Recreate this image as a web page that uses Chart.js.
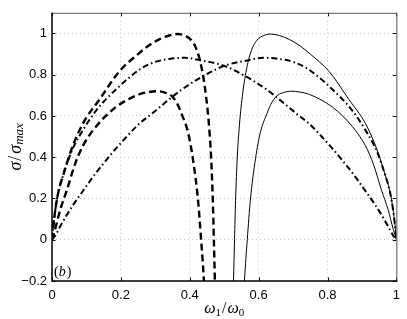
<!DOCTYPE html>
<html><head><meta charset="utf-8">
<script src="https://cdn.jsdelivr.net/npm/chart.js@4.4.1/dist/chart.umd.min.js"></script>
<style>html,body{margin:0;padding:0;background:#fff}#wrap{width:407px;height:319px}</style>
</head><body><div id="wrap"><canvas id="c" width="407" height="319"></canvas></div>
<script>
// Tick values and labels
const xTicks = [0, 0.2, 0.4, 0.6, 0.8, 1];
const xTickLabels = ['0', '0.2', '0.4', '0.6', '0.8', '1'];
const yTicks = [-0.2, 0, 0.2, 0.4, 0.6, 0.8, 1];
const yTickLabels = ['\u22120.2', '0', '0.2', '0.4', '0.6', '0.8', '1'];

// Dashed curve, tall (peak ~1.0)
const dashHighX = [0, 0.004, 0.01, 0.019, 0.033, 0.057, 0.09, 0.138, 0.195, 0.25, 0.28, 0.31, 0.34, 0.365, 0.385, 0.405, 0.418, 0.429, 0.437, 0.443, 0.452, 0.457, 0.462, 0.467, 0.470, 0.473, 0.476];
const dashHighY = [0, 0.07, 0.15, 0.235, 0.316, 0.44, 0.564, 0.68, 0.815, 0.90, 0.94, 0.97, 0.99, 0.997, 0.99, 0.967, 0.93, 0.874, 0.81, 0.75, 0.626, 0.53, 0.40, 0.19, 0.0, -0.2, -0.4];
// Dashed curve, low (peak ~0.72)
const dashLowX = [0, 0.009, 0.024, 0.043, 0.066, 0.09, 0.128, 0.185, 0.252, 0.281, 0.305, 0.33, 0.348, 0.365, 0.376, 0.395, 0.409, 0.424, 0.433, 0.441, 0.447];
const dashLowY = [0, 0.05, 0.146, 0.239, 0.363, 0.456, 0.549, 0.642, 0.704, 0.716, 0.72, 0.712, 0.696, 0.655, 0.611, 0.52, 0.394, 0.192, 0.0, -0.195, -0.4];
// Dash-dot curve, peak on the left
const dotLeftX = [0, 0.004, 0.01, 0.019, 0.033, 0.057, 0.085, 0.128, 0.19, 0.257, 0.3, 0.34, 0.386, 0.433, 0.5, 0.557, 0.624, 0.71, 0.748, 0.81, 0.843, 0.881, 0.9, 0.938, 0.957, 0.976, 0.99, 1];
const dotLeftY = [0, 0.07, 0.15, 0.235, 0.316, 0.43, 0.518, 0.626, 0.735, 0.828, 0.862, 0.876, 0.882, 0.869, 0.843, 0.797, 0.727, 0.611, 0.56, 0.45, 0.385, 0.305, 0.26, 0.17, 0.12, 0.065, 0.022, 0];
// Dash-dot curve, peak on the right
const dotRightX = [0, 0.01, 0.024, 0.043, 0.062, 0.1, 0.119, 0.157, 0.19, 0.252, 0.29, 0.376, 0.443, 0.5, 0.567, 0.614, 0.66, 0.7, 0.743, 0.81, 0.872, 0.915, 0.943, 0.967, 0.981, 0.99, 0.996, 1];
const dotRightY = [0, 0.022, 0.065, 0.12, 0.17, 0.26, 0.305, 0.385, 0.45, 0.56, 0.611, 0.727, 0.797, 0.843, 0.869, 0.882, 0.876, 0.862, 0.828, 0.735, 0.626, 0.518, 0.43, 0.316, 0.235, 0.15, 0.07, 0];
// Solid curve, tall (peak ~1.0)
const solidHighX = [0.524, 0.527, 0.53, 0.533, 0.538, 0.543, 0.548, 0.557, 0.563, 0.571, 0.582, 0.595, 0.615, 0.635, 0.66, 0.69, 0.72, 0.75, 0.805, 0.862, 0.91, 0.943, 0.967, 0.981, 0.99, 0.996, 1];
const solidHighY = [-0.4, -0.2, 0.0, 0.19, 0.40, 0.53, 0.626, 0.75, 0.81, 0.874, 0.93, 0.967, 0.99, 0.997, 0.99, 0.97, 0.94, 0.90, 0.815, 0.68, 0.564, 0.44, 0.316, 0.235, 0.15, 0.07, 0];
// Solid curve, low (peak ~0.72)
const solidLowX = [0.553, 0.559, 0.567, 0.576, 0.591, 0.605, 0.624, 0.635, 0.652, 0.67, 0.695, 0.719, 0.748, 0.815, 0.872, 0.91, 0.934, 0.957, 0.976, 0.991, 1];
const solidLowY = [-0.4, -0.195, 0.0, 0.192, 0.394, 0.52, 0.611, 0.655, 0.696, 0.712, 0.72, 0.716, 0.704, 0.642, 0.549, 0.456, 0.363, 0.239, 0.146, 0.05, 0];

const pts = (xs, ys) => xs.map((x, i) => ({x: x, y: ys[i]}));
const mk = (xs, ys, w, dash) => ({
  data: pts(xs, ys), borderColor: '#000', borderWidth: w, borderDash: dash,
  pointRadius: 0, showLine: true, fill: false, cubicInterpolationMode: 'monotone'
});

const deco = {
  id: 'deco',
  afterDatasetsDraw(chart) {
    const ctx = chart.ctx, a = chart.chartArea;
    const xs = chart.scales.x, ys = chart.scales.y;
    ctx.save();
    ctx.setLineDash([]);
    ctx.strokeStyle = '#000'; ctx.lineWidth = 1;
    const tl = 3.5;
    xTicks.forEach(v => {
      const p = Math.round(xs.getPixelForValue(v)) + 0.5;
      ctx.beginPath(); ctx.moveTo(p, a.bottom); ctx.lineTo(p, a.bottom - tl); ctx.stroke();
      ctx.beginPath(); ctx.moveTo(p, a.top); ctx.lineTo(p, a.top + tl); ctx.stroke();
    });
    yTicks.forEach(v => {
      const p = Math.round(ys.getPixelForValue(v)) + 0.5;
      ctx.beginPath(); ctx.moveTo(a.left, p); ctx.lineTo(a.left + tl, p); ctx.stroke();
      ctx.beginPath(); ctx.moveTo(a.right, p); ctx.lineTo(a.right - tl, p); ctx.stroke();
    });
    ctx.strokeStyle = '#555'; ctx.lineWidth = 1;
    ctx.beginPath(); ctx.moveTo(a.left, a.top + 0.5); ctx.lineTo(a.right + 0.5, a.top + 0.5); ctx.lineTo(a.right + 0.5, a.bottom); ctx.stroke();
    ctx.strokeStyle = '#000'; ctx.lineWidth = 1.5;
    ctx.beginPath(); ctx.moveTo(a.left, a.top); ctx.lineTo(a.left, a.bottom); ctx.lineTo(a.right + 1, a.bottom); ctx.stroke();
    ctx.fillStyle = '#000'; ctx.textBaseline = 'middle'; ctx.textAlign = 'left';
    let x0 = a.left + 2, y0 = a.bottom - 9;
    ctx.font = '14px "Liberation Serif"';
    ctx.fillText('(', x0, y0); x0 += ctx.measureText('(').width;
    ctx.font = 'italic 14px "Liberation Serif"';
    ctx.fillText('b', x0, y0); x0 += ctx.measureText('b').width + 1;
    ctx.font = '14px "Liberation Serif"';
    ctx.fillText(')', x0, y0);
    ctx.restore();
  },
  afterDraw(chart) {
    const ctx = chart.ctx, a = chart.chartArea;
    const drawSegs = (segs, cx, cy, big, small) => {
      let w = 0;
      segs.forEach(s => {
        ctx.font = (s[1] ? 'italic ' : '') + (s[2] ? small : big) + 'px "Liberation Serif"';
        w += ctx.measureText(s[0]).width + (s[3] || 0);
      });
      let x = cx - w / 2;
      segs.forEach(s => {
        ctx.font = (s[1] ? 'italic ' : '') + (s[2] ? small : big) + 'px "Liberation Serif"';
        ctx.fillText(s[0], x, cy + (s[2] ? 4 : 0));
        x += ctx.measureText(s[0]).width + (s[3] || 0);
      });
    };
    ctx.save();
    ctx.fillStyle = '#000'; ctx.textBaseline = 'middle'; ctx.textAlign = 'left';
    drawSegs([['\u03c9', true, false], ['1', false, true, 1], ['/', false, false, 1], ['\u03c9', true, false], ['0', false, true]], (a.left + a.right) / 2, 309, 16, 11);
    ctx.translate(16, (a.top + a.bottom) / 2);
    ctx.rotate(-Math.PI / 2);
    drawSegs([['\u03c3', true, false, 1], ['/', false, false, 2], ['\u03c3', true, false], ['max', true, true]], 0, 0, 18, 13);
    ctx.restore();
  }
};

new Chart(document.getElementById('c'), {
  type: 'scatter',
  data: {
    datasets: [
      mk(dashHighX, dashHighY, 2.4, [7, 4]),
      mk(dashLowX, dashLowY, 2.4, [7, 4]),
      mk(dotLeftX, dotLeftY, 2, [6, 3, 1.5, 3]),
      mk(dotRightX, dotRightY, 2, [6, 3, 1.5, 3]),
      mk(solidHighX, solidHighY, 1, []),
      mk(solidLowX, solidLowY, 1, [])
    ]
  },
  options: {
    responsive: false, animation: false, devicePixelRatio: 1,
    layout: {padding: {top: 3, right: 5, left: 0, bottom: 0}},
    plugins: {legend: {display: false}, tooltip: {enabled: false}},
    scales: {
      x: {
        type: 'linear', min: 0, max: 1,
        afterBuildTicks: s => { s.ticks = xTicks.map(v => ({value: v})); },
        afterFit: s => { s.height = 38; },
        border: {display: false, dash: [1, 3]},
        grid: {color: '#c4c4c4', drawTicks: false, lineWidth: 1},
        ticks: {padding: 7, color: '#000', font: {family: '"Liberation Sans", Arial', size: 13},
                callback: (v, i) => xTickLabels[i], maxRotation: 0}
      },
      y: {
        type: 'linear', min: -0.2, max: 1.1,
        afterBuildTicks: s => { s.ticks = yTicks.map(v => ({value: v})); },
        afterFit: s => { s.width = 52; },
        border: {display: false, dash: [1, 3]},
        grid: {color: '#c4c4c4', drawTicks: false, lineWidth: 1},
        ticks: {padding: 5, color: '#000', font: {family: '"Liberation Sans", Arial', size: 13},
                callback: (v, i) => yTickLabels[i]}
      }
    }
  },
  plugins: [deco]
});
</script></body></html>
